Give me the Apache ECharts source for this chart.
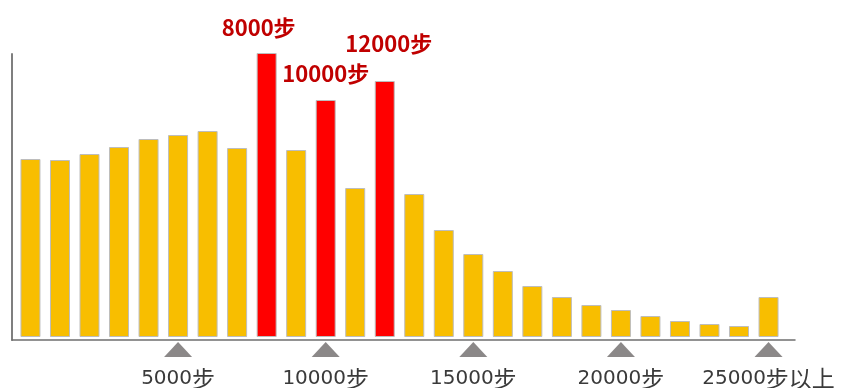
<!DOCTYPE html>
<html>
<head>
<meta charset="utf-8">
<script src="https://cdn.jsdelivr.net/npm/echarts@6/dist/echarts.min.js"></script>
<style>
html,body{margin:0;padding:0;background:#fff;}
#chart{width:842px;height:388px;}
</style>
</head>
<body>
<div id="chart"></div>
<script>
// bins of 1000 steps (bin start), last bin = 25000 and above
const categories = ['0','1000','2000','3000','4000','5000','6000','7000','8000','9000','10000','11000','12000','13000','14000','15000','16000','17000','18000','19000','20000','21000','22000','23000','24000','25000'];
// relative frequency (arbitrary units)
const values = [178,177,183,190,198,202,206,189,284,187,237,149,256,143,107,83,66,51,40,32,27,21,16,13,11,40];
// highlighted bins and their annotations
const highlightIdx = [8,10,12];
const highlightLabels = ['8000步','10000步','12000步'];
// axis tick labels (shown under triangle markers)
const tickLabels = ['','','','','','5000步','','','','','10000步','','','','','15000步','','','','','20000步','','','','','25000步以上'];

const labelStyle = {
  8:  {distance: 14, offset: [-8, 0]},
  10: {distance: 15, offset: [0, 0]},
  12: {distance: 26, offset: [4, 0]}
};

const barData = values.map((v, i) => {
  const h = highlightIdx.indexOf(i);
  if (h < 0) return v;
  const ls = labelStyle[i];
  return {
    value: v,
    itemStyle: {color: '#FF0000'},
    label: {
      show: true,
      position: 'top',
      distance: ls.distance,
      offset: ls.offset,
      formatter: highlightLabels[h],
      color: '#C00000',
      fontSize: 22,
      fontWeight: 'bold',
      fontFamily: '"Noto Sans CJK SC", sans-serif'
    }
  };
});

const markerData = tickLabels.map((t, i) => t ? [i, 0.5] : null).filter(d => d);

function fmtTick(v, i) {
  const t = tickLabels[i];
  const m = t.match(/^(\d+)(.*)$/);
  return m ? '{n|' + m[1] + '}{c|' + m[2] + '}' : t;
}

const chart = echarts.init(document.getElementById('chart'), null, {renderer: 'canvas'});
chart.setOption({
  animation: false,
  backgroundColor: '#fff',
  grid: [
    {left: 15.7, right: 58.7, top: 53, bottom: 51, containLabel: false, outerBoundsMode: 'none'},
    {left: 15.7, right: 58.7, top: 342, height: 15, containLabel: false, outerBoundsMode: 'none'},
    {left: 12, right: 47, top: 54, bottom: 48, containLabel: false, outerBoundsMode: 'none'}
  ],
  xAxis: [
    {
      type: 'category', gridIndex: 0, data: categories,
      axisLine: {show: false}, axisTick: {show: false},
      axisLabel: {
        interval: (i) => tickLabels[i] !== '',
        formatter: fmtTick,
        margin: 30,
        color: '#3a3a3a',
        rich: {
          n: {fontSize: 20, color: '#3a3a3a', fontFamily: '"DejaVu Sans", sans-serif'},
          c: {fontSize: 23, color: '#3a3a3a', fontFamily: '"Noto Sans CJK SC", sans-serif'}
        }
      }
    },
    {
      type: 'category', gridIndex: 1, data: categories, show: false
    },
    {
      type: 'value', gridIndex: 2, min: 0, max: 1,
      axisLine: {show: true, onZero: false, lineStyle: {color: '#6f6f6f', width: 1.5}},
      axisTick: {show: false}, axisLabel: {show: false}, splitLine: {show: false}
    }
  ],
  yAxis: [
    {
      type: 'value', gridIndex: 0, min: 0, max: 284, show: false
    },
    {
      type: 'value', gridIndex: 1, min: 0, max: 1, show: false
    },
    {
      type: 'value', gridIndex: 2, min: 0, max: 1,
      axisLine: {show: true, onZero: false, lineStyle: {color: '#7f7f7f', width: 2}},
      axisTick: {show: false}, axisLabel: {show: false}, splitLine: {show: false}
    }
  ],
  series: [
    {
      type: 'bar', xAxisIndex: 0, yAxisIndex: 0,
      data: barData,
      barWidth: 20,
      itemStyle: {color: '#F8BE00', borderColor: '#BDBDBD', borderWidth: 1},
      emphasis: {disabled: true}
    },
    {
      type: 'scatter', xAxisIndex: 1, yAxisIndex: 1,
      data: markerData,
      symbol: 'triangle',
      symbolSize: [28, 15],
      itemStyle: {color: '#6E6A6A'},
      clip: false,
      emphasis: {disabled: true}
    }
  ]
});
</script>
</body>
</html>
